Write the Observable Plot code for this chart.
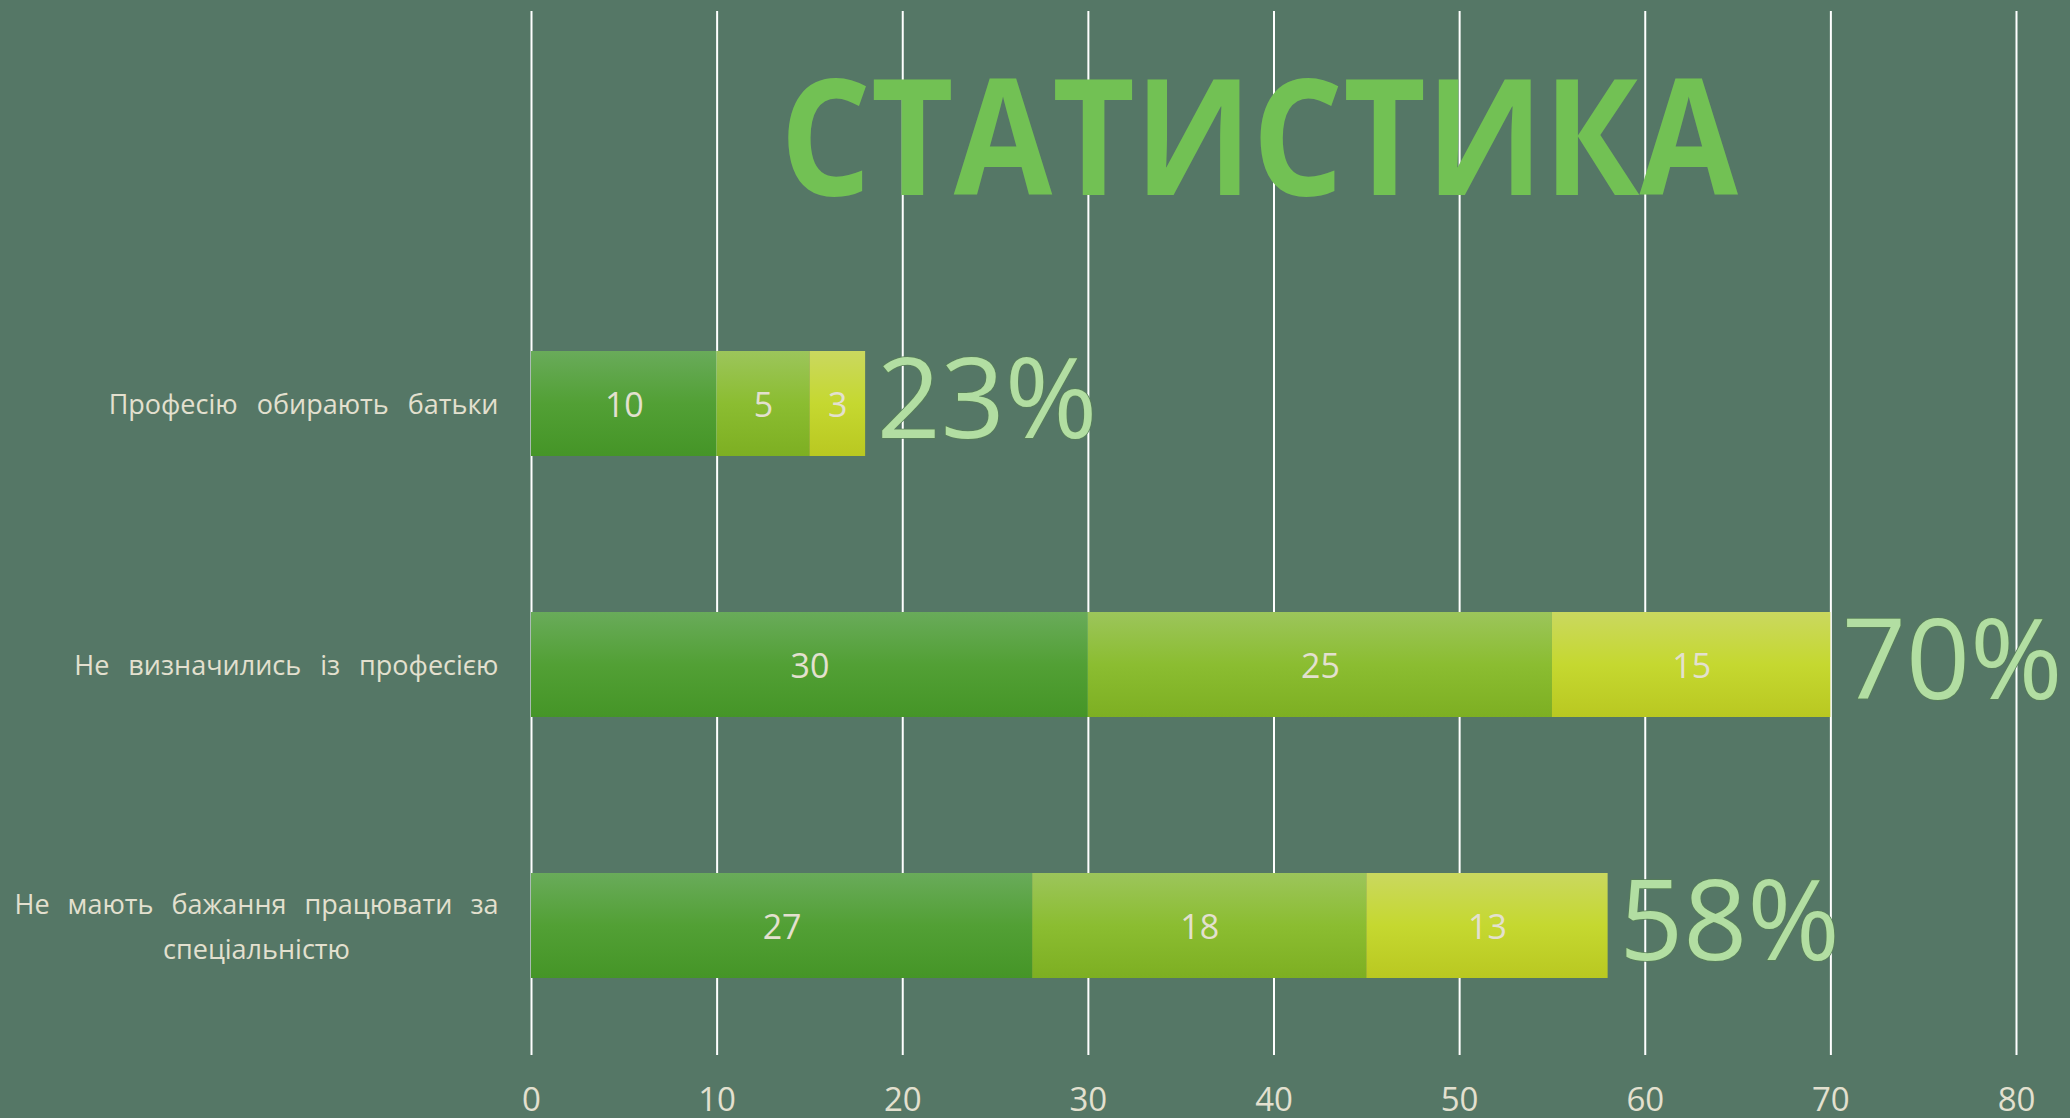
<!DOCTYPE html>
<html>
<head>
<meta charset="utf-8">
<script src="https://cdn.jsdelivr.net/npm/d3@7"></script>
<script src="https://cdn.jsdelivr.net/npm/@observablehq/plot@0.6"></script>
<style>
  html, body { margin: 0; padding: 0; background: #557766; overflow: hidden; }
  #wrap { position: relative; width: 2070px; height: 1118px; }
  #title {
    position: absolute; left: 780px; top: 52px; white-space: nowrap;
    font-family: "Open Sans", sans-serif; font-weight: 700; font-size: 161px; line-height: 1;
    color: #72c154; transform-origin: 0 0;
  }
</style>
</head>
<body>
<div id="wrap">
  <div id="chart"></div>
  <span id="title">СТАТИСТИКА</span>
</div>
<script>
// ---- data ----
const categories = [
  "Професію обирають батьки",
  "Не визначились із професією",
  "Не мають бажання працювати за спеціальністю"
];
const categoryLabels = [
  "Професію обирають батьки",
  "Не визначились із професією",
  "Не мають бажання працювати за\nспеціальністю"
];
const seriesNames = ["Ряд 1", "Ряд 2", "Ряд 3"];
const series1 = [10, 30, 27];
const series2 = [5, 25, 18];
const series3 = [3, 15, 13];
const percentLabels = ["23%", "70%", "58%"];
const xTicks = [0, 10, 20, 30, 40, 50, 60, 70, 80];

// ---- tables built from the arrays ----
const seriesValues = [series1, series2, series3];
const rows = [];
categories.forEach((c, i) => {
  seriesNames.forEach((s, j) => rows.push({category: c, series: s, value: seriesValues[j][i]}));
});
const totals = categories.map((c, i) => ({
  category: c,
  total: series1[i] + series2[i] + series3[i],
  label: percentLabels[i]
}));
const labelOf = new Map(categories.map((c, i) => [c, categoryLabels[i]]));

const textColor = "#e3e0cf";
const ns = "http://www.w3.org/2000/svg";

function defsMark() {
  const defs = document.createElementNS(ns, "defs");
  const grads = [
    ["g1", ["#69ab5a", "#52a035", "#459527"]],
    ["g2", ["#9cc55b", "#8bbd31", "#7daf22"]],
    ["g3", ["#cad85f", "#c5d830", "#b9c821"]]
  ];
  for (const [id, cols] of grads) {
    const g = document.createElementNS(ns, "linearGradient");
    g.setAttribute("id", id);
    g.setAttribute("x1", "0"); g.setAttribute("y1", "0");
    g.setAttribute("x2", "0"); g.setAttribute("y2", "1");
    cols.forEach((c, k) => {
      const s = document.createElementNS(ns, "stop");
      s.setAttribute("offset", String(k / (cols.length - 1)));
      s.setAttribute("stop-color", c);
      g.appendChild(s);
    });
    defs.appendChild(g);
  }
  const f = document.createElementNS(ns, "filter");
  f.setAttribute("id", "emboss");
  f.setAttribute("x", "-10%"); f.setAttribute("y", "-10%");
  f.setAttribute("width", "120%"); f.setAttribute("height", "120%");
  f.innerHTML = '<feDropShadow dx="2" dy="2" stdDeviation="1.2" flood-color="#2f4a3a" flood-opacity="0.6"/>';
  defs.appendChild(f);
  return defs;
}

const plot = Plot.plot({
  width: 2070,
  height: 1118,
  marginLeft: 531,
  marginRight: 54,
  marginTop: 11,
  marginBottom: 63,
  style: {background: "#557766", color: textColor, fontFamily: "'Open Sans', sans-serif", overflow: "visible"},
  x: {domain: [0, 80], ticks: xTicks},
  y: {domain: categories, range: [271.75, 1056.25], paddingInner: 0.5985, paddingOuter: 0.29925},
  color: {domain: seriesNames, range: ["url(#g1)", "url(#g2)", "url(#g3)"]},
  marks: [
    defsMark,
    Plot.gridX(xTicks, {stroke: "#ffffff", strokeOpacity: 1, strokeWidth: 2}),
    Plot.barX(rows, Plot.stackX({x: "value", y: "category", fill: "series", z: "series", order: seriesNames})),
    Plot.text(rows, Plot.stackX({
      x: "value", y: "category", z: "series", text: d => String(d.value), order: seriesNames,
      fill: textColor, fontSize: 34, dy: 2
    })),
    Plot.text(totals, {
      x: "total", y: "category", text: "label", textAnchor: "start", dx: 11, dy: -2,
      fontSize: 112, fill: "#b2dea2", stroke: "#587f58", strokeWidth: 1.6,
      ariaLabel: "percent"
    }),
    Plot.axisX({ticks: xTicks, tickSize: 0, tickPadding: 32, fontSize: 33, fill: textColor, label: null}),
    Plot.axisY({
      tickSize: 0, tickPadding: 33, fontSize: 27, fill: textColor, label: null, dy: -4,
      tickFormat: d => labelOf.get(d), lineHeight: 1.65
    })
  ]
});

document.getElementById("chart").appendChild(plot);

// emboss on the percentage labels
d3.select(plot).selectAll("g[aria-label='percent']").attr("filter", "url(#emboss)");

// axis label typography: wide word spacing, centred last line of the wrapped label
d3.select(plot).selectAll("g[aria-label='y-axis tick label'] text").style("word-spacing", "12px");
d3.select(plot).selectAll("text").each(function () {
  const t = d3.select(this);
  const tspans = t.selectAll("tspan");
  if (!tspans.empty() && tspans.size() === 2 && t.text().includes("спеціальністю")) {
    tspans.filter((d, i) => i === 0).style("word-spacing", "11px");
    tspans.filter((d, i) => i === 1).attr("x", -242).style("text-anchor", "middle");
  }
});

// fit the title to its width
document.fonts.ready.then(() => {
  const t = document.getElementById("title");
  const w = t.getBoundingClientRect().width;
  t.style.transform = `scaleX(${958 / w})`;
});
</script>
</body>
</html>
